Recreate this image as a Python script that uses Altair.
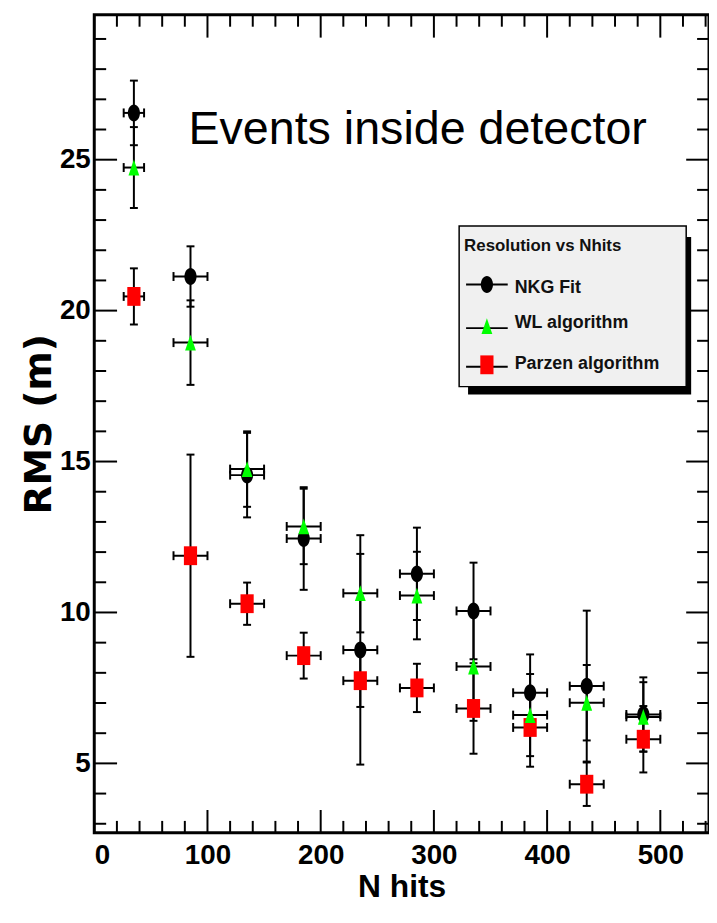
import altair as alt
import pandas as pd

# ---------------- data ----------------
x_vals = [35, 85, 135, 185, 235, 285, 335, 385, 435, 485]
x_errs = [9, 15, 15, 15, 15, 15, 15, 15, 15, 15]

nkg = [26.55, 21.13, 14.55, 12.45, 8.76, 11.28, 10.05, 7.34, 7.56, 6.62]
nkg_err = [1.07, 1.0, 1.4, 1.7, 3.8, 1.53, 1.6, 1.27, 2.5, 1.23]

wl = [24.74, 18.94, 14.75, 12.85, 10.64, 10.56, 8.21, 6.6, 7.01, 6.54]
wl_err = [1.34, 1.4, 1.25, 1.25, 1.3, 1.45, 1.8, 1.36, 1.25, 1.15]

parzen = [20.47, 11.88, 10.29, 8.57, 7.74, 7.5, 6.82, 6.19, 4.31, 5.8]
parzen_err = [0.93, 3.35, 0.7, 0.76, 0.87, 0.8, 1.5, 1.3, 0.72, 1.1]

series_names = ["NKG Fit", "WL algorithm", "Parzen algorithm"]
series_colors = ["#000000", "#00ff00", "#ff0000"]
legend_title = "Resolution vs Nhits"
annotation = "Events inside detector"

x_major = [0, 100, 200, 300, 400, 500]
x_minor = [v for v in range(20, 541, 20) if v % 100 != 0]
y_major = [5, 10, 15, 20, 25]
y_minor = [v for v in range(3, 30) if v % 5 != 0]

x_domain = [0, 543]
y_domain = [2.7, 29.8]

# ---------------- layout / style ----------------
W, H = 620, 825
MAJ, MIN = 23, 12
FONT = "Liberation Sans, Arial, sans-serif"

circle_path = "M0,-1 A0.72,1 0 1,1 0,1 A0.72,1 0 1,1 0,-1 Z"
triangle_path = "M0,-1 L0.68,1 L-0.68,1 Z"
square_path = "M-0.7,-1 L0.7,-1 L0.7,1 L-0.7,1 Z"
shapes = {"NKG Fit": (circle_path, 289), "WL algorithm": (triangle_path, 256),
          "Parzen algorithm": (square_path, 361)}

rows = []
for name, ys, es in zip(series_names, [nkg, wl, parzen], [nkg_err, wl_err, parzen_err]):
    for xv, xe, yv, ye in zip(x_vals, x_errs, ys, es):
        rows.append(dict(series=name, x=xv, xlo=xv - xe, xhi=xv + xe,
                         y=yv, ylo=yv - ye, yhi=yv + ye))
df = pd.DataFrame(rows)

xscale = alt.Scale(domain=x_domain, nice=False, zero=False)
yscale = alt.Scale(domain=y_domain, nice=False, zero=False)
xaxis = alt.Axis(values=x_major, format="d", title="N hits", labelPadding=9,
                 titleY=64, titleBaseline="alphabetic")
yaxis = alt.Axis(values=y_major, format="d", title="RMS (m)", labelPadding=4,
                 titleX=-55, titleBaseline="middle", titleFont="DejaVu Sans",
                 titleFontSize=38)


def X(f):
    return alt.X(f, type="quantitative", scale=xscale, axis=xaxis)


def Y(f):
    return alt.Y(f, type="quantitative", scale=yscale, axis=yaxis)


base = alt.Chart(df)
layers = []
# error bars
layers.append(base.mark_rule(color="black", strokeWidth=2).encode(x=X("x"), y=Y("ylo"), y2="yhi"))
layers.append(base.mark_rule(color="black", strokeWidth=2).encode(x=X("xlo"), x2="xhi", y=Y("y")))
for f in ["ylo", "yhi"]:
    layers.append(base.mark_tick(orient="horizontal", size=8, thickness=2, color="black",
                                 opacity=1).encode(x=X("x"), y=Y(f)))
for f in ["xlo", "xhi"]:
    layers.append(base.mark_tick(orient="vertical", size=9, thickness=2, color="black",
                                 opacity=1).encode(x=X(f), y=Y("y")))
# markers (draw order: NKG, Parzen, WL)
for name in ["NKG Fit", "Parzen algorithm", "WL algorithm"]:
    path, size = shapes[name]
    col = series_colors[series_names.index(name)]
    layers.append(base.transform_filter(alt.datum.series == name).mark_point(
        shape=path, size=size, filled=True, color=col, opacity=1, strokeWidth=0
    ).encode(x=X("x"), y=Y("y")))


# inward ticks on all four sides
def xticks(vals, length):
    d = alt.Chart(pd.DataFrame({"t": vals}))
    m = d.mark_rule(color="black", strokeWidth=2)
    return [m.encode(x=X("t"), y=alt.value(H), y2=alt.value(H - length)),
            m.encode(x=X("t"), y=alt.value(0), y2=alt.value(length))]


def yticks(vals, length):
    d = alt.Chart(pd.DataFrame({"t": vals}))
    m = d.mark_rule(color="black", strokeWidth=2)
    return [m.encode(y=Y("t"), x=alt.value(0), x2=alt.value(length)),
            m.encode(y=Y("t"), x=alt.value(W), x2=alt.value(W - length))]


layers += xticks(x_major, MAJ) + xticks(x_minor, MIN) + yticks(y_major, MAJ) + yticks(y_minor, MIN)

# annotation text
one = alt.Chart(pd.DataFrame({"a": [0]}))
layers.append(one.mark_text(text=annotation, font=FONT, fontSize=47,
                            align="left", baseline="alphabetic", color="black").encode(
    x=alt.value(95), y=alt.value(130)))

# legend box with shadow
layers.append(one.mark_rect(color="black").encode(
    x=alt.value(377), x2=alt.value(602), y=alt.value(224), y2=alt.value(383)))
layers.append(one.mark_rect(fill="#f0f0f0", stroke="black", strokeWidth=1.5).encode(
    x=alt.value(368), x2=alt.value(597), y=alt.value(213), y2=alt.value(375)))
layers.append(one.mark_text(text=legend_title, font=FONT, fontWeight="bold", fontSize=17,
                            align="left", baseline="middle", color="#111111").encode(
    x=alt.value(373), y=alt.value(233)))
leg_line_y = [272, 316, 355]
leg_mark_y = [272, 314, 353]
leg_text_y = [276, 311, 352]
for i, name in enumerate(series_names):
    path, size = shapes[name]
    layers.append(one.mark_rule(color="black", strokeWidth=2).encode(
        x=alt.value(375), x2=alt.value(417), y=alt.value(leg_line_y[i])))
    layers.append(one.mark_point(shape=path, size=size, filled=True, color=series_colors[i],
                                 opacity=1, strokeWidth=0).encode(
        x=alt.value(396), y=alt.value(leg_mark_y[i])))
    layers.append(one.mark_text(text=name, font=FONT, fontWeight="bold", fontSize=18,
                                align="left", baseline="middle", color="#111111").encode(
        x=alt.value(424), y=alt.value(leg_text_y[i])))

chart = alt.layer(*layers).properties(
    width=W, height=H,
    autosize=alt.AutoSizeParams(type="none"),
    padding={"left": 87, "top": 3, "right": 0, "bottom": 76},
).configure_view(stroke="black", strokeWidth=3).configure_axis(
    grid=False, ticks=False, domain=False,
    labelFont=FONT, labelFontWeight="bold", labelFontSize=28, labelColor="black",
    titleFont=FONT, titleFontWeight="bold", titleFontSize=32, titleColor="black",
)

chart.save("out.html", embed_options={"renderer": "svg", "actions": False})
